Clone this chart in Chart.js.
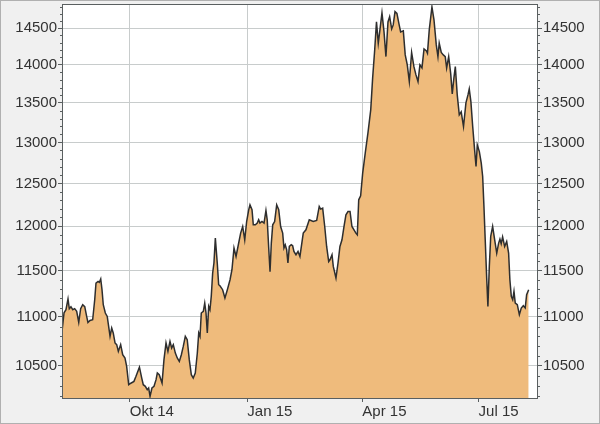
<!DOCTYPE html>
<html>
<head>
<meta charset="utf-8">
<script src="https://cdn.jsdelivr.net/npm/chart.js@4"></script>
<style>
  html, body { margin: 0; padding: 0; background: #f0f0f0; }
  canvas { display: block; }
</style>
</head>
<body>
<canvas id="chart" width="600" height="424"></canvas>
<script>
// x values are days since 9 Aug 2014
const monthTicks = [53, 145, 235, 326];
const monthLabels = ['Okt 14', 'Jan 15', 'Apr 15', 'Jul 15'];
const yTicks = [10500, 11000, 11500, 12000, 12500, 13000, 13500, 14000, 14500];

const days = [
    0, 1.6, 3.1, 4.7, 5.7, 7.0, 8.4, 9.9, 11.5, 13.1, 14.6, 16.2, 17.8, 19.3, 20.3, 21.9, 24.0, 25.6, 26.6, 28.2,
    29.2, 30.3, 31.3, 32.3, 33.9, 35.4, 36.5, 37.6, 38.9, 40.1, 41.5, 42.8, 44.1, 45.9, 47.5, 49.3, 50.6, 52.2, 54.2, 56.3,
    57.9, 60.6, 62.4, 63.6, 65.2, 66.7, 67.8, 68.9, 70.4, 72.0, 73.6, 74.6, 76.1, 78.3, 79.8, 81.4, 82.9, 84.5, 85.8, 87.1,
    88.7, 90.2, 91.8, 93.4, 94.9, 96.5, 98.0, 99.6, 101.2, 102.7, 104.3, 105.9, 107.0, 108.0, 109.0, 110.6, 111.7, 112.7, 113.7, 114.8,
    115.8, 116.8, 117.9, 118.9, 120.0, 121.5, 122.6, 123.6, 125.7, 127.5, 129.4, 131.5, 133.0, 134.6, 136.2, 138.0, 139.8, 141.4, 143.0, 144.5,
    146.1, 147.1, 148.7, 149.7, 151.3, 152.8, 153.9, 154.9, 156.5, 158.1, 159.6, 160.6, 161.7, 162.8, 163.8, 164.9, 166.4, 168.0, 169.6, 171.1,
    172.7, 173.7, 174.7, 175.8, 176.8, 177.9, 179.4, 180.5, 181.5, 183.1, 184.7, 186.2, 188.8, 190.9, 193.5, 196.6, 199.3, 201.3, 202.4, 204.0,
    205.6, 207.1, 208.7, 209.7, 211.3, 212.3, 214.4, 216.0, 217.5, 219.1, 220.7, 222.2, 223.8, 225.4, 226.9, 228.5, 230.0, 231.1, 232.2, 233.7,
    235.3, 237.3, 239.4, 241.6, 243.1, 244.7, 246.1, 247.5, 248.8, 250.4, 252.0, 253.5, 255.1, 256.4, 258.0, 259.2, 260.6, 262.1, 263.7, 265.0,
    267.1, 268.6, 270.2, 271.8, 273.6, 275.4, 277.0, 278.6, 280.1, 281.7, 283.3, 285.2, 286.0, 287.4, 289.5, 291.1, 292.9, 294.2, 295.2, 296.8,
    298.4, 299.9, 301.0, 302.6, 304.2, 305.4, 306.7, 307.8, 309.3, 310.9, 312.4, 314.2, 316.1, 317.7, 318.7, 320.0, 321.4, 322.9, 324.0, 325.0,
    326.6, 328.1, 329.2, 330.2, 331.2, 332.3, 333.3, 334.4, 335.5, 337.0, 338.6, 340.2, 341.7, 342.7, 343.7, 344.8, 346.4, 348.0, 349.5, 350.5,
    351.6, 352.7, 353.7, 354.7, 356.3, 357.9, 359.4, 361.0, 362.5, 363.6, 365.2
];

const values = [
    10849, 11045, 11077, 11191, 11088, 11109, 11077, 11088, 11059, 10943, 11088, 11130, 11109, 11006, 10943, 10964, 10971, 11183, 11363, 11381,
    11370, 11407, 11291, 11130, 11042, 11006, 10901, 10798, 10885, 10833, 10730, 10713, 10644, 10713, 10610, 10577, 10492, 10310, 10327, 10343,
    10393, 10485, 10376, 10310, 10294, 10261, 10278, 10196, 10278, 10294, 10360, 10426, 10409, 10327, 10560, 10730, 10644, 10747, 10678, 10713,
    10627, 10577, 10543, 10610, 10695, 10798, 10764, 10560, 10409, 10376, 10426, 10627, 10833, 10798, 11042, 11059, 11148, 11042, 10833, 11112,
    11077, 11219, 11473, 11583, 11862, 11583, 11345, 11334, 11291, 11201, 11291, 11399, 11509, 11750, 11656, 11787, 11919, 11995, 11843, 12052,
    12188, 12246, 12188, 12014, 12014, 12034, 12072, 12034, 12052, 12034, 12180, 12072, 11768, 11487, 11806, 12014, 12052, 12246, 12188, 11995,
    11919, 11750, 11787, 11731, 11583, 11768, 11787, 11776, 11712, 11675, 11712, 11656, 11919, 11957, 12072, 12052, 12064, 12227, 12196, 12208,
    11995, 11768, 11600, 11619, 11675, 11545, 11418, 11583, 11768, 11843, 11995, 12130, 12168, 12168, 11995, 11957, 11919, 11900, 12305, 12352,
    12623, 12867, 13115, 13411, 13827, 14202, 14588, 14294, 14477, 14714, 14449, 14112, 14588, 14662, 14490, 14546, 14732, 14707, 14560, 14449,
    14463, 14135, 14000, 13779, 14168, 13977, 13867, 13779, 14000, 13960, 14216, 14189, 14158, 14477, 14798, 14616, 14270, 14112, 14294, 14168,
    14135, 14112, 13960, 14112, 13880, 13617, 13827, 13977, 13604, 13347, 13385, 13199, 13501, 13604, 13682, 13513, 13199, 12907, 12703, 12969,
    12886, 12745, 12583, 12227, 11843, 11435, 11112, 11545, 11881, 11995, 11843, 11694, 11806, 11851, 11798, 11876, 11768, 11824, 11694, 11399,
    11219, 11183, 11273, 11148, 11130, 11024, 11095, 11119, 11095, 11237, 11291
];

const points = days.map((d, i) => ({ x: d, y: values[i] }));

const fontSpec = { family: "'Liberation Sans', Arial, sans-serif", size: 15 };
const gridColor = '#c8cccc';
const axisColor = '#5a5f60';

const framePlugin = {
    id: 'frame',
    beforeDraw(chart) {
        const { ctx, chartArea: a } = chart;
        ctx.save();
        ctx.fillStyle = '#f0f0f0';
        ctx.fillRect(0, 0, chart.width, chart.height);
        ctx.fillStyle = '#ffffff';
        ctx.fillRect(a.left, a.top, a.right - a.left, a.bottom - a.top);
        ctx.restore();
    },
    afterDraw(chart) {
        const { ctx, chartArea: a } = chart;
        const ys = chart.scales.y;
        ctx.save();
        ctx.lineWidth = 1;
        // minor ticks every 100 on both sides
        ctx.strokeStyle = axisColor;
        ctx.beginPath();
        for (let v = 10200; v <= 14800; v += 100) {
            if (v % 500 === 0) continue;
            const py = Math.round(ys.getPixelForValue(v)) + 0.5;
            ctx.moveTo(a.left - 2, py);
            ctx.lineTo(a.left, py);
            ctx.moveTo(a.right, py);
            ctx.lineTo(a.right + 2, py);
        }
        ctx.stroke();
        // plot frame
        ctx.strokeStyle = axisColor;
        ctx.strokeRect(a.left + 0.5, a.top + 0.5, a.right - a.left - 1, a.bottom - a.top - 1);
        // outer border
        ctx.strokeStyle = '#b0b0b0';
        ctx.strokeRect(0.5, 0.5, chart.width - 1, chart.height - 1);
        ctx.restore();
    }
};

function yAxis(position, drawGrid) {
    return {
        type: 'logarithmic',
        position: position,
        min: 10170,
        max: 14840,
        afterBuildTicks: s => { s.ticks = yTicks.map(v => ({ value: v })); },
        afterFit: s => {
            s.width = 62;
            s.paddingTop = 0;
            s.paddingBottom = 0;
        },
        ticks: {
            callback: v => String(v),
            color: '#333',
            font: fontSpec,
            padding: 1,
            autoSkip: false
        },
        grid: {
            drawOnChartArea: drawGrid,
            color: gridColor,
            tickColor: axisColor,
            tickLength: 4
        },
        border: { display: false }
    };
}

new Chart(document.getElementById('chart').getContext('2d'), {
    type: 'line',
    data: {
        datasets: [{
            data: points,
            yAxisID: 'y',
            fill: 'start',
            backgroundColor: 'rgb(239, 187, 124)',
            borderColor: '#2e2e2e',
            borderWidth: 1.5,
            pointRadius: 0,
            tension: 0
        }]
    },
    options: {
        responsive: false,
        animation: false,
        devicePixelRatio: 1,
        layout: { padding: { top: 4, left: 0, right: 0, bottom: 0 } },
        plugins: {
            legend: { display: false },
            tooltip: { enabled: false }
        },
        scales: {
            x: {
                type: 'linear',
                min: 0,
                max: 372.5,
                afterBuildTicks: s => { s.ticks = monthTicks.map(v => ({ value: v })); },
                afterFit: s => {
                    s.height = 25;
                    s.paddingLeft = 0;
                    s.paddingRight = 0;
                },
                ticks: {
                    callback: (v, i) => monthLabels[i],
                    align: 'start',
                    maxRotation: 0,
                    autoSkip: false,
                    color: '#333',
                    font: fontSpec,
                    padding: 1
                },
                grid: {
                    color: gridColor,
                    tickColor: axisColor,
                    tickLength: 3
                },
                border: { display: false }
            },
            y: yAxis('left', true),
            y2: yAxis('right', false)
        }
    },
    plugins: [framePlugin]
});
</script>
</body>
</html>
